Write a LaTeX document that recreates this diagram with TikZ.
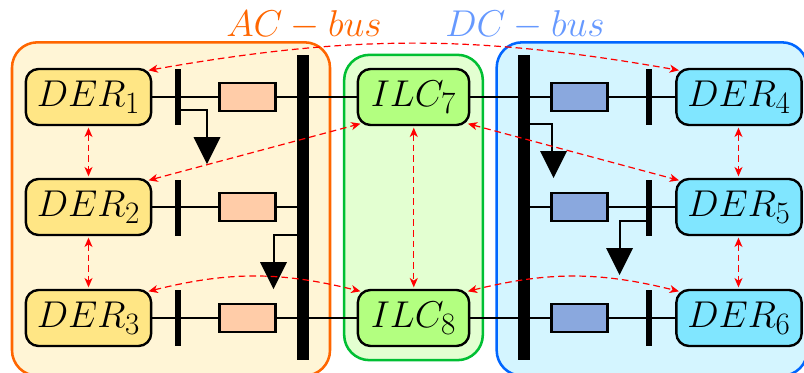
\documentclass[tikz,border=0pt]{standalone}
\usepackage{graphicx}
\usepackage{amsmath}
\usetikzlibrary{arrows.meta}
\definecolor{acline}{HTML}{FF6600}
\definecolor{acfill}{HTML}{FFF5D6}
\definecolor{ilcline}{HTML}{00BF33}
\definecolor{ilcfill}{HTML}{E3FFD1}
\definecolor{dcline}{HTML}{0066FF}
\definecolor{dcfill}{HTML}{D4F5FF}
\definecolor{dertop}{HTML}{FFE685}
\definecolor{derdc}{HTML}{80E6FF}
\definecolor{ilcbox}{HTML}{B3FF80}
\definecolor{resac}{HTML}{FFCCA8}
\definecolor{resdc}{HTML}{8AA8DE}
\definecolor{dclabel}{HTML}{6699FF}
\newcommand{\bigmath}[1]{\scalebox{1.125}{\fontsize{24.88}{30}\selectfont$#1$}}
\tikzset{
  x=0.75pt,y=-0.75pt,
  every node/.style={inner sep=0pt,outer sep=0pt},
  groupbox/.style={draw,line width=1.9pt,rounded corners=19pt,minimum width=#1},
  unitbox/.style={draw=black,line width=1.8pt,rounded corners=9.5pt,minimum height=42pt},
  derac/.style={unitbox,fill=dertop,minimum width=94pt},
  derdcbox/.style={unitbox,fill=derdc,minimum width=94pt},
  ilcnode/.style={unitbox,fill=ilcbox,minimum width=83.5pt},
  resbox/.style={draw=black,line width=1.7pt,minimum width=42pt,minimum height=21pt},
  shortbar/.style={fill=black,minimum width=5pt,minimum height=42pt},
  longbar/.style={fill=black,minimum width=9pt,minimum height=229pt},
  wire/.style={line width=1.6pt,draw=black},
  loadtri/.style={fill=black},
  comm/.style={red,line width=0.9pt,dash pattern=on 5pt off 3pt,{Stealth[length=7pt,width=6pt,inset=2pt]}-{Stealth[length=7pt,width=6pt,inset=2pt]}}
}
\begin{document}
\begin{tikzpicture}
\clip (0,0) rectangle (804,372);
\useasboundingbox (0,0) rectangle (804,372);
% zones
\node[groupbox=238.5pt,draw=acline,fill=acfill,minimum height=250pt] (acz) at (171,209) {};
\node[groupbox=104pt,draw=ilcline,fill=ilcfill,minimum height=229pt] (ilcz) at (413.5,207.5) {};
\node[groupbox=233pt,draw=dcline,fill=dcfill,minimum height=250pt] (dcz) at (652,209) {};
% labels
\node[text=acline] (aclab) at (304,25) {\bigmath{AC-bus}};
\node[text=dclabel] (dclab) at (525,25) {\bigmath{DC-bus}};
% units
\node[derac] (d1) at (88.5,97) {\bigmath{DER_1}};
\node[derac] (d2) at (88.5,207) {\bigmath{DER_2}};
\node[derac] (d3) at (88.5,318) {\bigmath{DER_3}};
\node[derdcbox] (d4) at (739,97) {\bigmath{DER_4}};
\node[derdcbox] (d5) at (739,207) {\bigmath{DER_5}};
\node[derdcbox] (d6) at (739,318) {\bigmath{DER_6}};
\node[ilcnode] (i7) at (413.5,97) {\bigmath{ILC_7}};
\node[ilcnode] (i8) at (413.5,318) {\bigmath{ILC_8}};
% buses and bars
\node[longbar] (busac) at (303,207.5) {};
\node[longbar] (busdc) at (524,207.5) {};
\node[shortbar] (b1) at (178,97) {};
\node[shortbar] (b2) at (178,208) {};
\node[shortbar] (b3) at (178,318) {};
\node[shortbar] (b4) at (649,97) {};
\node[shortbar] (b5) at (649,208) {};
\node[shortbar] (b6) at (649,318) {};
% wires
\draw[wire] (d1.east) -- (i7.west);
\draw[wire] (i7.east) -- (d4.west);
\draw[wire] (d2.east) -- (busac.west |- d2.east);
\draw[wire] (busdc.east |- d5.west) -- (d5.west);
\draw[wire] (d3.east) -- (i8.west);
\draw[wire] (i8.east) -- (d6.west);
% bars again on top of the wires
\node[shortbar] at (b1) {};
\node[shortbar] at (b2) {};
\node[shortbar] at (b3) {};
\node[shortbar] at (b4) {};
\node[shortbar] at (b5) {};
\node[shortbar] at (b6) {};
\node[longbar] at (busac) {};
\node[longbar] at (busdc) {};
% line impedances
\node[resbox,fill=resac] (r1) at (247.5,97) {};
\node[resbox,fill=resac] (r2) at (247.5,207) {};
\node[resbox,fill=resac] (r3) at (247.5,318) {};
\node[resbox,fill=resdc] (r4) at (579.5,97) {};
\node[resbox,fill=resdc] (r5) at (579.5,207) {};
\node[resbox,fill=resdc] (r6) at (579.5,318) {};
% loads
\coordinate (l1) at (207,137);
\coordinate (l2) at (274,262);
\coordinate (l3) at (552,151);
\coordinate (l4) at (620,248);
\draw[wire] (b1.east |- 0,110) -| (l1);
\draw[wire] (busac.west |- 0,235) -| (l2);
\draw[wire] (busdc.east |- 0,124) -| (l3);
\draw[wire] (b5.west |- 0,221) -| (l4);
\fill[loadtri] (193.5,137) -- (220.5,137) -- (207,164) -- cycle;
\fill[loadtri] (260,262) -- (287,262) -- (273.5,289) -- cycle;
\fill[loadtri] (540,151) -- (567,151) -- (553.5,178) -- cycle;
\fill[loadtri] (606,248) -- (633,248) -- (619.5,275) -- cycle;
% communication
\draw[comm] ([xshift=-2pt,yshift=-1pt]d1.north east) to[out=10,in=170] ([xshift=2pt,yshift=-1pt]d4.north west);
\draw[comm] ([xshift=-2pt,yshift=-1pt]d3.north east) to[out=14,in=166] ([xshift=2pt,yshift=-1pt]i8.north west);
\draw[comm] ([xshift=-1pt,yshift=-1pt]i8.north east) to[out=14,in=166] ([xshift=2pt,yshift=-1pt]d6.north west);
\draw[comm] ([xshift=-2pt,yshift=-1pt]d2.north east) -- ([xshift=2pt,yshift=1pt]i7.south west);
\draw[comm] ([xshift=-1pt,yshift=1pt]i7.south east) -- ([xshift=2pt,yshift=-1pt]d5.north west);
\draw[comm] ([yshift=-2pt]d1.south) -- ([yshift=2pt]d2.north);
\draw[comm] ([yshift=-2pt]d2.south) -- ([yshift=2pt]d3.north);
\draw[comm] ([xshift=-0.4pt,yshift=-2pt]d4.south) -- ([xshift=-0.4pt,yshift=2pt]d5.north);
\draw[comm] ([xshift=-0.4pt,yshift=-2pt]d5.south) -- ([xshift=-0.4pt,yshift=2pt]d6.north);
\draw[comm] ([xshift=0.2pt,yshift=-2pt]i7.south) -- ([xshift=0.2pt,yshift=2pt]i8.north);
\end{tikzpicture}
\end{document}
